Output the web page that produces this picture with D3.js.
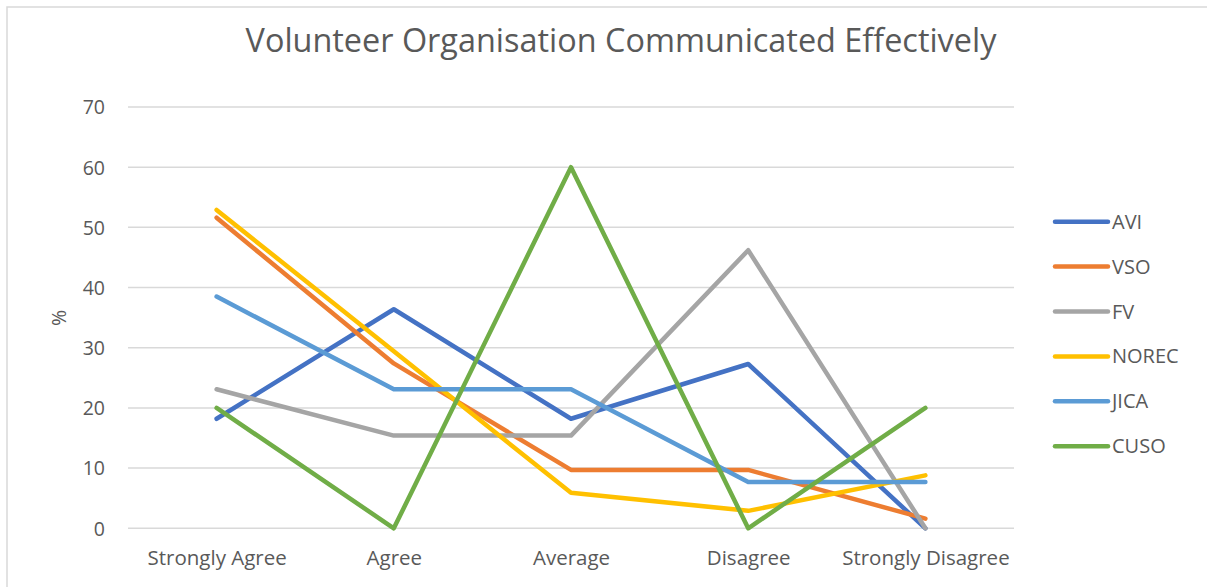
<!DOCTYPE html>
<html><head><meta charset="utf-8">
<script src="https://cdn.jsdelivr.net/npm/d3@7"></script>
<style>
html,body{margin:0;padding:0;background:#fff;}
svg{display:block;font-family:"Open Sans","Liberation Sans",sans-serif;}
</style></head>
<body>
<svg id="chart" width="1207" height="587"></svg>
<script>
const title = "Volunteer Organisation Communicated Effectively";
const categories = ["Strongly Agree","Agree","Average","Disagree","Strongly Disagree"];
const seriesNames = ["AVI","VSO","FV","NOREC","JICA","CUSO"];
const seriesColors = ["#4472C4","#ED7D31","#A5A5A5","#FFC000","#5B9BD5","#70AD47"];
const AVI   = [18.2, 36.4, 18.2, 27.3, 0];
const VSO   = [51.6, 27.4, 9.7, 9.7, 1.6];
const FV    = [23.1, 15.4, 15.4, 46.2, 0];
const NOREC = [52.9, 29.4, 5.9, 2.9, 8.8];
const JICA  = [38.5, 23.1, 23.1, 7.7, 7.7];
const CUSO  = [20, 0, 60, 0, 20];
const yTicks = [0,10,20,30,40,50,60,70];
const yLabel = "%";

const seriesValues = [AVI, VSO, FV, NOREC, JICA, CUSO];
const svg = d3.select("#chart");
const textColor = "#595959";

// chart border
svg.append("rect").attr("x",7).attr("y",7).attr("width",1220).attr("height",600)
  .attr("fill","#fff").attr("stroke","#d9d9d9").attr("stroke-width",1.5);

const plot = {left:128, right:1014, top:107, bottom:528.3};
const x = d3.scalePoint().domain(categories).range([plot.left, plot.right]).padding(0.5);
const y = d3.scaleLinear().domain([0,70]).range([plot.bottom, plot.top]);

// gridlines
svg.append("g").selectAll("line").data(yTicks).join("line")
  .attr("x1",plot.left).attr("x2",plot.right)
  .attr("y1",d=>y(d)).attr("y2",d=>y(d))
  .attr("stroke","#d9d9d9").attr("stroke-width",1.5);

// y axis labels
const yAxis = d3.axisLeft(y).tickValues(yTicks).tickSize(0).tickPadding(0);
const yg = svg.append("g").attr("transform",`translate(105,0)`).call(yAxis);
yg.select(".domain").remove();
yg.selectAll("text").attr("fill",textColor).style("font-size","19.5px")
  .style("font-family","'Open Sans',sans-serif").attr("text-anchor","end").attr("dy","0.35em");

// x axis labels
const xAxis = d3.axisBottom(x).tickSize(0).tickPadding(0);
const xg = svg.append("g").attr("transform",`translate(0,${plot.bottom})`).call(xAxis);
xg.select(".domain").remove();
xg.selectAll("text").attr("fill",textColor).style("font-size","20.5px")
  .style("font-family","'Open Sans',sans-serif").attr("y",37).attr("dy","0");

// y label
svg.append("text").attr("transform","translate(66,318) rotate(-90)")
  .attr("text-anchor","middle").attr("fill",textColor)
  .style("font-size","19.5px").text(yLabel);

// lines
const line = d3.line().x((d,i)=>x(categories[i])).y(d=>y(d));
svg.append("g").selectAll("path").data(seriesValues).join("path")
  .attr("d",d=>line(d)).attr("fill","none")
  .attr("stroke",(d,i)=>seriesColors[i]).attr("stroke-width",4.5)
  .attr("stroke-linejoin","round").attr("stroke-linecap","round");

// legend
const lg = svg.append("g");
seriesNames.forEach((n,i)=>{
  const yy = 221.7 + i*44.9;
  lg.append("line").attr("x1",1055).attr("x2",1108).attr("y1",yy).attr("y2",yy)
    .attr("stroke",seriesColors[i]).attr("stroke-width",4.5).attr("stroke-linecap","round");
  lg.append("text").attr("x",1112).attr("y",yy).attr("dy","0.35em")
    .attr("fill",textColor).style("font-size","20px").text(n);
});

// title
const t = svg.append("text").attr("x",621).attr("y",52).attr("text-anchor","middle")
  .attr("fill",textColor).style("font-size","30px").style("font-family","'Open Sans',sans-serif").text(title);
const w = t.node().getComputedTextLength();
t.style("font-size", (30*751/w).toFixed(2)+"px");
</script>
</body></html>
